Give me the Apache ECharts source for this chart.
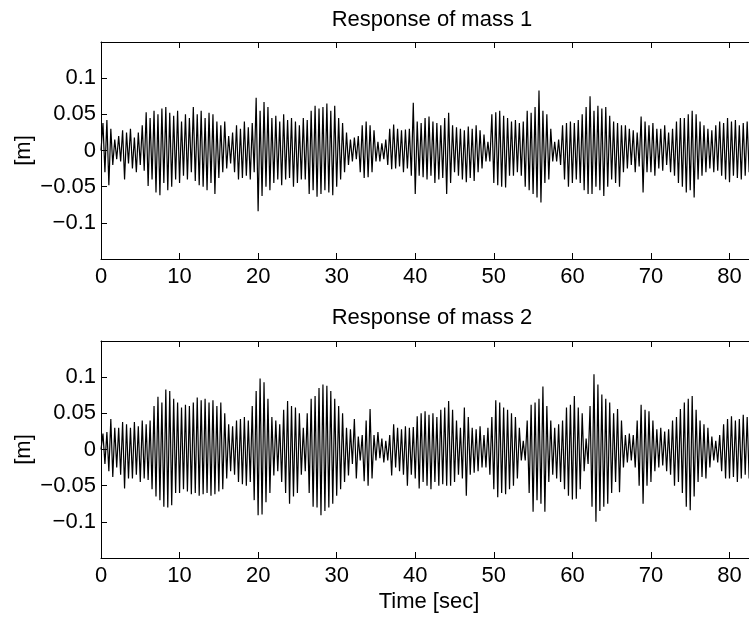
<!DOCTYPE html>
<html>
<head>
<meta charset="utf-8">
<script src="https://cdn.jsdelivr.net/npm/echarts@6/dist/echarts.min.js"></script>
<style>html,body{margin:0;padding:0;background:#fff;overflow:hidden;width:749px;height:617px;}#c{width:780px;height:617px;}</style>
</head>
<body>
<div id="c"></div>
<script>
// sampling step of the recorded responses [sec]
const dt = 0.25;
const titles = ["Response of mass 1", "Response of mass 2"];
const xTicks = [0, 10, 20, 30, 40, 50, 60, 70, 80];
const yTicks = [-0.1, -0.05, 0, 0.05, 0.1];

// displacement of mass 1 [m], one row per second
const mass1 = [
 0.000, 0.038,-0.030, 0.042,
-0.048, 0.030,-0.020, 0.015,
-0.012, 0.020,-0.015, 0.028,
-0.040, 0.025,-0.018, 0.030,
-0.025, 0.018,-0.030, 0.025,
-0.020, 0.035,-0.028, 0.053,
-0.049, 0.045,-0.040, 0.055,
-0.058, 0.050,-0.062, 0.058,
-0.045, 0.060,-0.055, 0.052,
-0.050, 0.048,-0.040, 0.055,
-0.045, 0.040,-0.035, 0.050,
-0.040, 0.045,-0.030, 0.060,
-0.042, 0.050,-0.048, 0.055,
-0.050, 0.045,-0.055, 0.052,
-0.045, 0.050,-0.060, 0.040,
-0.038, 0.035,-0.030, 0.040,
-0.025, 0.020,-0.018, 0.025,
-0.030, 0.035,-0.040, 0.030,
-0.038, 0.040,-0.035, 0.032,
-0.040, 0.038,-0.030, 0.073,
-0.084, 0.055,-0.063, 0.067,
-0.050, 0.060,-0.055, 0.045,
-0.045, 0.048,-0.040, 0.040,
-0.048, 0.050,-0.040, 0.042,
-0.038, 0.045,-0.050, 0.040,
-0.045, 0.035,-0.040, 0.045,
-0.040, 0.042,-0.060, 0.055,
-0.055, 0.062,-0.064, 0.058,
-0.060, 0.060,-0.055, 0.065,
-0.058, 0.055,-0.062, 0.062,
-0.050, 0.045,-0.040, 0.038,
-0.030, 0.025,-0.020, 0.015,
-0.015, 0.018,-0.012, 0.020,
-0.030, 0.035,-0.038, 0.040,
-0.037, 0.035,-0.030, 0.028,
-0.015, 0.012,-0.015, 0.010,
-0.012, 0.015,-0.020, 0.030,
-0.026, 0.036,-0.025, 0.030,
-0.022, 0.028,-0.030, 0.029,
-0.025, 0.030,-0.035, 0.066,
-0.060, 0.040,-0.035, 0.038,
-0.037, 0.045,-0.040, 0.047,
-0.035, 0.040,-0.045, 0.038,
-0.040, 0.035,-0.038, 0.045,
-0.060, 0.052,-0.045, 0.035,
-0.030, 0.032,-0.035, 0.030,
-0.040, 0.028,-0.044, 0.033,
-0.038, 0.030,-0.042, 0.035,
-0.030, 0.028,-0.025, 0.022,
-0.015, 0.012,-0.015, 0.050,
-0.045, 0.053,-0.048, 0.055,
-0.050, 0.048,-0.051, 0.045,
-0.035, 0.040,-0.035, 0.042,
-0.030, 0.038,-0.035, 0.040,
-0.050, 0.055,-0.055, 0.052,
-0.060, 0.060,-0.065, 0.083,
-0.072, 0.055,-0.045, 0.050,
-0.040, 0.030,-0.015, 0.012,
-0.015, 0.015,-0.020, 0.035,
-0.040, 0.038,-0.050, 0.040,
-0.045, 0.038,-0.040, 0.042,
-0.045, 0.050,-0.055, 0.060,
-0.060, 0.075,-0.060, 0.055,
-0.050, 0.062,-0.055, 0.058,
-0.063, 0.060,-0.050, 0.048,
-0.040, 0.040,-0.045, 0.038,
-0.050, 0.035,-0.030, 0.035,
-0.025, 0.030,-0.020, 0.028,
-0.030, 0.025,-0.022, 0.047,
-0.058, 0.040,-0.030, 0.035,
-0.030, 0.038,-0.035, 0.030,
-0.025, 0.030,-0.028, 0.035,
-0.020, 0.025,-0.030, 0.030,
-0.035, 0.040,-0.045, 0.045,
-0.050, 0.045,-0.058, 0.050,
-0.055, 0.055,-0.065, 0.050,
-0.040, 0.040,-0.035, 0.035,
-0.030, 0.030,-0.025, 0.028,
-0.030, 0.035,-0.028, 0.040,
-0.035, 0.038,-0.040, 0.045,
-0.044, 0.040,-0.035, 0.042,
-0.038, 0.035,-0.040, 0.038,
-0.035, 0.040,-0.030, 0.035,
-0.030
];

// displacement of mass 2 [m], one row per second
const mass2 = [
 0.000, 0.022,-0.020, 0.024,
-0.030, 0.042,-0.038, 0.030,
-0.025, 0.030,-0.035, 0.038,
-0.054, 0.035,-0.040, 0.030,
-0.040, 0.038,-0.035, 0.032,
-0.045, 0.040,-0.040, 0.035,
-0.042, 0.040,-0.055, 0.060,
-0.065, 0.073,-0.070, 0.065,
-0.079, 0.083,-0.080, 0.081,
-0.077, 0.070,-0.060, 0.065,
-0.060, 0.058,-0.055, 0.062,
-0.058, 0.060,-0.062, 0.065,
-0.060, 0.072,-0.064, 0.068,
-0.062, 0.070,-0.060, 0.065,
-0.064, 0.068,-0.062, 0.060,
-0.058, 0.065,-0.055, 0.050,
-0.040, 0.035,-0.030, 0.032,
-0.035, 0.040,-0.045, 0.042,
-0.048, 0.045,-0.050, 0.040,
-0.045, 0.060,-0.070, 0.081,
-0.091, 0.098,-0.090, 0.093,
-0.073, 0.070,-0.060, 0.045,
-0.036, 0.040,-0.030, 0.035,
-0.045, 0.055,-0.060, 0.067,
-0.075, 0.060,-0.065, 0.058,
-0.060, 0.050,-0.035, 0.030,
-0.030, 0.050,-0.060, 0.070,
-0.079, 0.074,-0.080, 0.085,
-0.091, 0.090,-0.085, 0.088,
-0.080, 0.081,-0.075, 0.070,
-0.064, 0.060,-0.055, 0.050,
-0.045, 0.030,-0.036, 0.028,
-0.020, 0.042,-0.040, 0.018,
-0.015, 0.020,-0.044, 0.040,
-0.050, 0.056,-0.040, 0.020,
-0.015, 0.024,-0.012, 0.015,
-0.018, 0.012,-0.015, 0.020,
-0.036, 0.035,-0.025, 0.030,
-0.030, 0.028,-0.035, 0.032,
-0.050, 0.030,-0.035, 0.031,
-0.040, 0.046,-0.054, 0.050,
-0.045, 0.053,-0.050, 0.048,
-0.055, 0.050,-0.045, 0.045,
-0.050, 0.055,-0.048, 0.058,
-0.050, 0.067,-0.050, 0.055,
-0.045, 0.040,-0.035, 0.030,
-0.040, 0.058,-0.064, 0.045,
-0.035, 0.030,-0.032, 0.028,
-0.030, 0.032,-0.025, 0.020,
-0.025, 0.030,-0.035, 0.045,
-0.055, 0.068,-0.066, 0.065,
-0.060, 0.058,-0.062, 0.055,
-0.055, 0.050,-0.050, 0.045,
-0.040, 0.030,-0.015, 0.012,
-0.015, 0.040,-0.060, 0.062,
-0.086, 0.065,-0.070, 0.070,
-0.075, 0.087,-0.086, 0.060,
-0.045, 0.040,-0.035, 0.030,
-0.040, 0.035,-0.045, 0.040,
-0.055, 0.058,-0.064, 0.062,
-0.069, 0.074,-0.068, 0.058,
-0.055, 0.050,-0.030, 0.015,
-0.020, 0.060,-0.079, 0.104,
-0.100, 0.090,-0.085, 0.076,
-0.079, 0.070,-0.075, 0.065,
-0.060, 0.050,-0.045, 0.056,
-0.059, 0.040,-0.025, 0.020,
-0.018, 0.022,-0.015, 0.020,
-0.025, 0.040,-0.050, 0.062,
-0.075, 0.055,-0.050, 0.053,
-0.045, 0.040,-0.030, 0.028,
-0.025, 0.030,-0.022, 0.025,
-0.030, 0.028,-0.035, 0.040,
-0.050, 0.045,-0.045, 0.056,
-0.060, 0.065,-0.079, 0.070,
-0.084, 0.074,-0.065, 0.055,
-0.045, 0.040,-0.038, 0.035,
-0.040, 0.030,-0.025, 0.018,
-0.015, 0.012,-0.018, 0.020,
-0.030, 0.035,-0.040, 0.042,
-0.040, 0.046,-0.038, 0.040,
-0.045, 0.042,-0.040, 0.048,
-0.035, 0.045,-0.040, 0.046,
-0.030
];

const FONT = 'Liberation Sans, Arial, Helvetica, sans-serif';
const FS = 22;

function toPairs(arr) { return arr.map((v, i) => [i * dt, v]); }

function yLabel(v) {
  const r = Math.round(v * 100) / 100;
  if (!yTicks.some(t => Math.abs(t - r) < 1e-9)) return '';
  if (r === 0) return '0';
  return (r < 0 ? '\u2212' : '') + String(Math.abs(r));
}
function xLabel(v) {
  return xTicks.indexOf(Math.round(v)) >= 0 ? String(Math.round(v)) : '';
}

const chart = echarts.init(document.getElementById('c'), null, {renderer: 'canvas', width: 780, height: 617});

const grids = [
  {left: 101, top: 42, height: 217, right: 23},
  {left: 101, top: 341, height: 217, right: 23}
];

const xAxes = [], yAxes = [];
[0, 1].forEach(g => {
  const common = {
    type: 'value', gridIndex: g, min: 0, max: 83.5, interval: 10,
    axisLine: {show: true, onZero: false, lineStyle: {color: '#000', width: 1}},
    axisTick: {show: true, inside: true, length: 6, lineStyle: {color: '#000', width: 1}},
    splitLine: {show: false}
  };
  xAxes.push(Object.assign({}, common, {
    position: 'bottom',
    axisLabel: {show: true, color: '#000', fontFamily: FONT, fontSize: FS, margin: 7, formatter: xLabel,
                showMaxLabel: false},
    name: g === 1 ? 'Time [sec]' : '',
    nameLocation: 'middle', nameGap: 33, nameMoveOverlap: false,
    nameTextStyle: {color: '#000', fontFamily: FONT, fontSize: FS}
  }));
  xAxes.push(Object.assign({}, common, {
    position: 'top', axisLabel: {show: false}
  }));
  const ycommon = {
    type: 'value', gridIndex: g, min: -0.15, max: 0.15, interval: 0.05,
    axisLine: {show: true, onZero: false, lineStyle: {color: '#000', width: 1}},
    axisTick: {show: true, inside: true, length: 6, lineStyle: {color: '#000', width: 1}},
    splitLine: {show: false}
  };
  yAxes.push(Object.assign({}, ycommon, {
    position: 'left',
    axisLabel: {show: true, color: '#000', fontFamily: FONT, fontSize: FS, margin: 5, formatter: yLabel},
    name: '[m]', nameLocation: 'middle', nameRotate: 90, nameGap: 66, nameMoveOverlap: false,
    nameTextStyle: {color: '#000', fontFamily: FONT, fontSize: FS}
  }));
  yAxes.push(Object.assign({}, ycommon, {
    position: 'right', axisLabel: {show: false}
  }));
});

const option = {
  animation: false,
  backgroundColor: '#fff',
  title: [
    {text: titles[0], left: 427, top: 4, textAlign: 'center',
     textStyle: {color: '#000', fontFamily: FONT, fontSize: FS, fontWeight: 'normal'}},
    {text: titles[1], left: 427, top: 302, textAlign: 'center',
     textStyle: {color: '#000', fontFamily: FONT, fontSize: FS, fontWeight: 'normal'}}
  ],
  grid: grids,
  xAxis: xAxes,
  yAxis: yAxes,
  series: [
    {type: 'line', xAxisIndex: 0, yAxisIndex: 0, data: toPairs(mass1), showSymbol: false,
     lineStyle: {color: '#000', width: 1.2}, silent: true},
    {type: 'line', xAxisIndex: 2, yAxisIndex: 2, data: toPairs(mass2), showSymbol: false,
     lineStyle: {color: '#000', width: 1.2}, silent: true}
  ]
};
chart.setOption(option);
</script>
</body>
</html>
